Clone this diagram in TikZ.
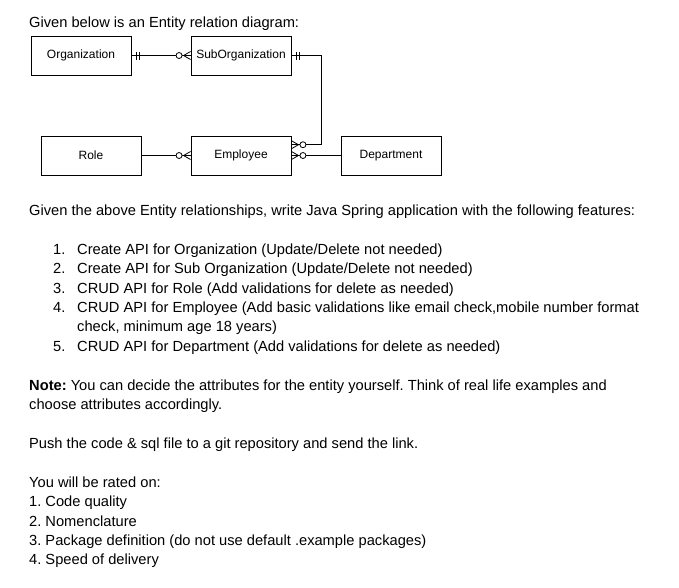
\documentclass[tikz,border=0pt]{standalone}
\usepackage{fontspec}
\setmainfont{Liberation Sans}
\usetikzlibrary{calc}
\frenchspacing
\begin{document}
\begin{tikzpicture}[x=1pt,y=-1pt,
  entity/.style={draw,line width=0.9pt,minimum width=100pt,minimum height=39pt,inner sep=0pt,font=\fontsize{12}{14}\selectfont},
  txt/.style={anchor=base west,inner sep=0pt,font=\fontsize{14.67}{17}\selectfont},
  conn/.style={line width=0.8pt},
  zmany/.pic={
    \draw[conn] (7,0) -- (0,4);
    \draw[conn] (7,0) -- (0,-4);
    \draw[conn] (7,0) -- (0,0);
    \draw[conn,fill=white] (11.5,0) circle (3);
  },
  oneone/.pic={
    \draw[conn] (5,-4) -- (5,4);
    \draw[conn] (8,-4) -- (8,4);
  }]
\useasboundingbox (0,0) rectangle (679,587);
\fill[white] (0,0) rectangle (679,587);

% entities
\node[entity] (org) at (81,55.5) {Organization};
\node[entity] (sub) at (241,55.5) {SubOrganization};
\node[entity] (role) at (91,155.5) {Role};
\node[entity] (emp) at (241,155.5) {Employee};
\node[entity] (dep) at (391,155.5) {Department};
\coordinate (empup) at ($(emp.north east)!0.23!(emp.south east)$);
\coordinate (elbow) at (321,55.5);

% connectors
\draw[conn] (org.east) -- (sub.west);
\draw[conn] (sub.east) -- (elbow) |- (empup);
\draw[conn] (role.east) -- (emp.west);
\draw[conn] (emp.east) -- (dep.west);

% cardinality marks
\pic at (org.east) {oneone};
\pic[rotate=180] at (sub.west) {zmany};
\pic at (sub.east) {oneone};
\pic at (empup) {zmany};
\pic[rotate=180] at (emp.west) {zmany};
\pic at (emp.east) {zmany};

% texts
\node[txt] (t0) at (29,27) {Given below is an Entity relation diagram:};
\node[txt] (t1) at (29,215) {Given the above Entity relationships, write Java Spring application with the following features:};
\node[txt] (n1) at (53,254) {1.};
\node[txt] (l1) at (77,254) {Create API for Organization (Update/Delete not needed)};
\node[txt] (n2) at (53,273) {2.};
\node[txt] (l2) at (77,273) {Create API for Sub Organization (Update/Delete not needed)};
\node[txt] (n3) at (53,293) {3.};
\node[txt] (l3) at (77,293) {CRUD API for Role (Add validations for delete as needed)};
\node[txt] (n4) at (53,312) {4.};
\node[txt] (l4) at (77,312) {CRUD API for Employee (Add basic validations like email check,mobile number format};
\node[txt] (l4b) at (77,331) {check, minimum age 18 years)};
\node[txt] (n5) at (53,351) {5.};
\node[txt] (l5) at (77,351) {CRUD API for Department (Add validations for delete as needed)};
\node[txt] (note1) at (29,390) {\textbf{Note:} You can decide the attributes for the entity yourself. Think of real life examples and};
\node[txt] (note2) at (29,409) {choose attributes accordingly.};
\node[txt] (push) at (29,448) {Push the code \& sql file to a git repository and send the link.};
\node[txt] (r0) at (29,487) {You will be rated on:};
\node[txt] (r1) at (29,506) {1. Code quality};
\node[txt] (r2) at (29,526) {2. Nomenclature};
\node[txt] (r3) at (29,545) {3. Package definition (do not use default .example packages)};
\node[txt] (r4) at (29,564) {4. Speed of delivery};
\end{tikzpicture}
\end{document}
